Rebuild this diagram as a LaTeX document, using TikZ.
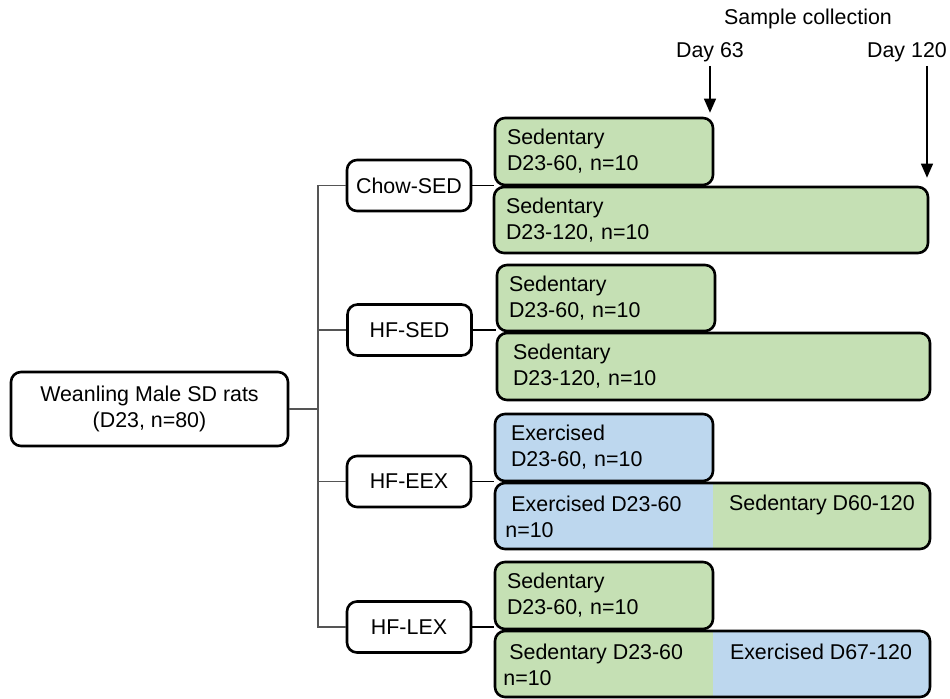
\documentclass[tikz,border=0pt]{standalone}
\usepackage{fontspec}
\setmainfont{Liberation Sans}
\usetikzlibrary{arrows.meta}
\definecolor{lgreen}{HTML}{C5E0B4}
\definecolor{lblue}{HTML}{BDD7EE}
\definecolor{conn}{HTML}{555555}
\tikzset{
  box/.style={draw=black, line width=1.3pt, rounded corners=5pt, inner sep=0pt, font=\fontsize{10.7}{13}\selectfont},
  grp/.style={box, fill=white, align=center},
  gbox/.style={box, fill=lgreen, align=left, text width=#1, inner xsep=6pt},
  bbox/.style={box, fill=lblue, align=left, text width=#1, inner xsep=6pt},
  lbl/.style={inner sep=0pt, font=\fontsize{10.7}{13}\selectfont},
  conline/.style={draw=conn, line width=0.6pt},
  arr/.style={draw=black, line width=0.6pt, -{Triangle[length=7pt,width=6pt]}}
}
\begin{document}
\begin{tikzpicture}[x=0.5pt,y=-0.5pt]
\useasboundingbox (0,0) rectangle (950,699);
% group nodes
\node[grp, minimum width=138.5pt, minimum height=37pt] (wean) at (149.5,409) {Weanling Male SD rats\\(D23, n=80)};
\node[grp, minimum width=62pt, minimum height=25.5pt] (chow) at (409,185.5) {Chow-SED};
\node[grp, minimum width=62pt, minimum height=25.5pt] (hfsed) at (409.5,330) {HF-SED};
\node[grp, minimum width=62pt, minimum height=25.5pt] (hfeex) at (409,481.5) {HF-EEX};
\node[grp, minimum width=62pt, minimum height=25.5pt] (hflex) at (409,627) {HF-LEX};
% tree
\coordinate (trunk) at (318,409);
\draw[conline] (wean.east) -- (trunk);
\draw[conline] (chow.west) -| (trunk |- chow.west) -- (trunk |- hflex.west) -- (hflex.west);
\draw[conline] (trunk |- hfsed.west) -- (hfsed.west);
\draw[conline] (trunk |- hfeex.west) -- (hfeex.west);
% result boxes
\node[gbox=97pt, minimum width=109pt, minimum height=33.5pt] (b1) at (604,151.5) {Sedentary\\D23-60, n=10};
\node[gbox=205pt, minimum width=217pt, minimum height=33pt] (b2) at (711,220) {Sedentary\\D23-120, n=10};
\node[gbox=97pt, minimum width=109pt, minimum height=33pt] (b3) at (606,298) {Sedentary\\D23-60, n=10};
\node[gbox=204.5pt, minimum width=216.5pt, minimum height=33.5pt] (b4) at (713.5,366.5) {\hspace*{2pt}Sedentary\\\hspace*{2pt}D23-120, n=10};
\node[bbox=97pt, minimum width=109pt, minimum height=33.5pt] (b5) at (604,447.5) {\hspace*{2pt}Exercised\\\hspace*{2pt}D23-60, n=10};
\node[gbox=97pt, minimum width=109pt, minimum height=33.5pt] (b7) at (604,595.5) {Sedentary\\D23-60, n=10};
% split boxes
\begin{scope}
\clip[rounded corners=5pt] (495,483) rectangle (930,549);
\fill[lblue] (495,483) rectangle (713,549);
\fill[lgreen] (713,483) rectangle (930,549);
\end{scope}
\node[box, minimum width=217.5pt, minimum height=33pt] (b6) at (712.5,516) {};
\begin{scope}
\clip[rounded corners=5pt] (495,631) rectangle (930,697);
\fill[lgreen] (495,631) rectangle (713,697);
\fill[lblue] (713,631) rectangle (930,697);
\end{scope}
\node[box, minimum width=217.5pt, minimum height=33pt] (b8) at (712.5,664) {};
\node[lbl, align=left, anchor=west] (b6l) at (505,517) {\hspace*{3pt}Exercised D23-60\\n=10};
\node[lbl] (b6r) at (822,505) {Sedentary D60-120};
\node[lbl, align=left, anchor=west] (b8l) at (503,665) {\hspace*{3pt}Sedentary D23-60\\n=10};
\node[lbl] (b8r) at (821,652) {Exercised D67-120};
% group to box connectors
\draw[conline, draw=black] (chow.east) -- (chow.east -| b1.west);
\draw[conline, draw=black] (hfsed.east) -- (hfsed.east -| b3.west);
\draw[conline, draw=black] (hfeex.east) -- (hfeex.east -| b5.west);
\draw[conline, draw=black] (hflex.east) -- (hflex.east -| b7.west);
% sample collection
\node[lbl] (sc) at (808,19) {Sample collection};
\node[lbl] (d63) at (710,52) {Day 63};
\node[lbl] (d120) at (907,52) {Day 120};
\coordinate (a63) at (710,66);
\coordinate (a120) at (927,66);
\draw[arr] (a63) -- ([yshift=2pt]a63 |- b1.north);
\draw[arr] (a120) -- ([yshift=4pt]a120 |- b2.north);
\end{tikzpicture}
\end{document}
